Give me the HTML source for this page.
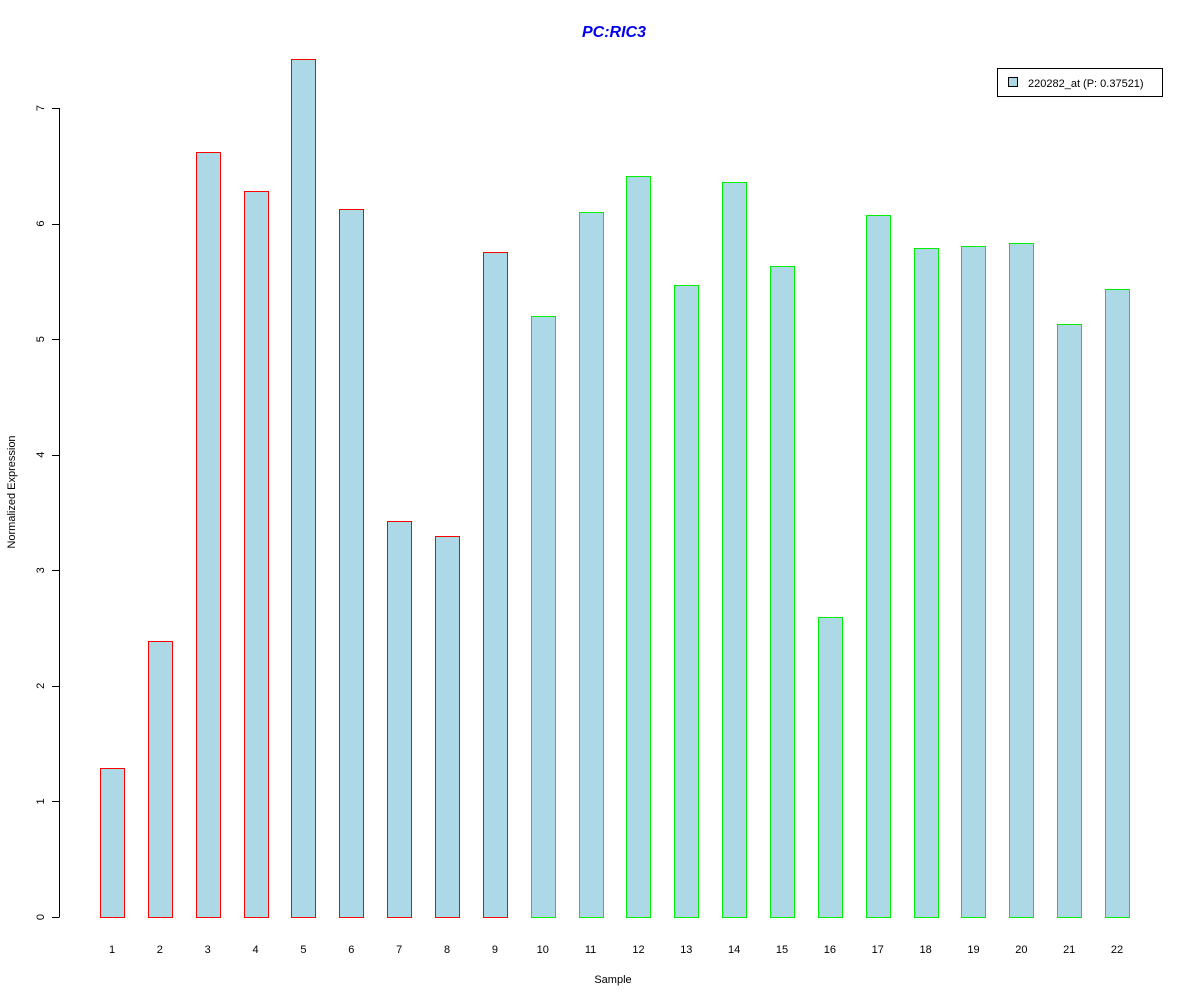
<!DOCTYPE html>
<html><head><meta charset="utf-8"><style>
body{margin:0;background:#fff}
svg text{font-family:"Liberation Sans",Arial,sans-serif}
</style></head><body>
<svg id="chart" width="1200" height="1000" xmlns="http://www.w3.org/2000/svg">
<rect width="1200" height="1000" fill="#fff"/>
<text x="614" y="37" text-anchor="middle" font-size="16" font-weight="bold" font-style="italic" fill="#0000ee">PC:RIC3</text>
<g id="yaxis"></g>
<g id="bars"></g>
<g id="xlabels"></g>
<text x="613" y="983" text-anchor="middle" font-size="11">Sample</text>
<text transform="translate(15,492) rotate(-90)" text-anchor="middle" font-size="11">Normalized Expression</text>
<g>
<rect x="997.5" y="68.5" width="165" height="28" fill="#fff" stroke="#000"/>
<rect x="1008.5" y="77.5" width="9" height="9" fill="#add8e6" stroke="#000"/>
<text x="1028" y="87" font-size="11">220282_at (P: 0.37521)</text>
</g>
<script>
const categories=["1","2","3","4","5","6","7","8","9","10","11","12","13","14","15","16","17","18","19","20","21","22"];
const values=[1.29,2.39,6.62,6.28,7.42,6.13,3.43,3.30,5.75,5.20,6.10,6.41,5.47,6.36,5.63,2.60,6.07,5.79,5.81,5.83,5.13,5.43];
const groups=["a","a","a","a","a","a","a","a","a","b","b","b","b","b","b","b","b","b","b","b","b","b"];
const yTicks=[0,1,2,3,4,5,6,7];
const NS="http://www.w3.org/2000/svg";
const y0=917,yUnit=(917-108)/7;
function ys(v){return y0-v*yUnit;}
function xs(i){return 100+i*47.86;}
const bw=24;
const ya=document.getElementById('yaxis');
function mk(tag,attrs,parent){const e=document.createElementNS(NS,tag);for(const k in attrs)e.setAttribute(k,attrs[k]);parent.appendChild(e);return e;}
const axl=mk('line',{x1:59.5,x2:59.5,y1:ys(0),y2:ys(7),stroke:'#000'},ya);


yTicks.forEach(t=>{
 const l=mk('line',{x1:52,x2:59.5,y1:Math.round(ys(t))+0.5,y2:Math.round(ys(t))+0.5,stroke:'#000'},ya);
 
 
 const tx=mk('text',{transform:`translate(44,${ys(t)}) rotate(-90)`,'text-anchor':'middle','font-size':11},ya);
 tx.textContent=String(t);
 
 
});
const bg=document.getElementById('bars'),xl=document.getElementById('xlabels');
values.forEach((v,i)=>{
 const r=mk('rect',{x:Math.round(xs(i))+0.5,y:Math.round(ys(v))+0.5,width:bw,height:Math.round(ys(0))-Math.round(ys(v)),fill:'#add8e6',stroke:groups[i]==='a'?'#ff0000':'#00ee00'},bg);
 
 
 const t=mk('text',{x:xs(i)+bw/2,y:953,'text-anchor':'middle','font-size':11},xl);
 t.textContent=categories[i];
 
 
});
</script>
</svg>
</body></html>
